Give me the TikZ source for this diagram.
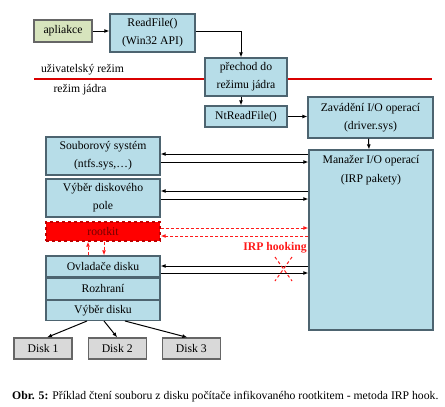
\documentclass[tikz,border=0pt]{standalone}
\usepackage{fontspec}
\setmainfont{Liberation Serif}
\usetikzlibrary{
	positioning,
	arrows.meta,
	calc}
\definecolor{boxfill}{HTML}{B7DDE8}
\definecolor{boxline}{HTML}{4D6470}
\definecolor{appfill}{HTML}{D7E4BD}
\definecolor{diskfill}{HTML}{D9D9D9}
\definecolor{hookred}{HTML}{FF1A1A}
\tikzset{
	layer box/.style={
		rectangle,
		draw=boxline,
		fill=boxfill,
		line width=1.2pt,
		inner sep=0pt,
		align=center,
		font=\fontsize{11.7}{18}\selectfont
	},
	app box/.style={
		layer box,
		draw=gray!80!black,
		fill=appfill
	},
	disk box/.style={
		layer box,
		draw=gray!80!black,
		fill=diskfill
	},
	rootkit box/.style={
		layer box,
		draw=red!75!black,
		fill=red,
		text=red!45!black,
		dashed
	},
	plain text/.style={
		inner sep=0pt,
		font=\fontsize{11.7}{14}\selectfont
	},
	flow/.style={
		draw=black,
		line width=1pt,
		-{Latex[length=5pt,width=4pt]}
	},
	hook/.style={
		draw=hookred,
		line width=1pt,
		dash pattern=on 3pt off 2pt,
		-{Latex[length=5pt,width=4pt]}
	},
	mode line/.style={
		draw=red!85!black,
		line width=1.4pt
	},
}
\begin{document}
\begin{tikzpicture}[x=1pt, y=-1pt]
	\useasboundingbox (0,0) rectangle (445,407);
	\draw[mode line] (34,79) -- (432,79);
	\node[plain text] (user)   at (82.5,70) {uživatelský režim};
	\node[plain text] (kernel) at (80,90)   {režim jádra};
%
	\node[app box, minimum width=58pt, minimum height=22pt]    (app)     at (63,31)      {apliakce};
	\node[layer box, minimum width=85pt, minimum height=38pt]  (read)    at (152.5,33)   {ReadFile()\\(Win32 API)};
	\node[layer box, minimum width=82pt, minimum height=38pt]  (switch)  at (246,77)     {přechod do\\režimu jádra};
	\node[layer box, minimum width=82pt, minimum height=21pt]  (ntread)  at (246,116.5)  {NtReadFile()};
	\node[layer box, minimum width=125pt, minimum height=41pt] (loader)  at (370.5,117.5) {Zavádění I/O operací\\(driver.sys)};
	\node[layer box, minimum width=124pt, minimum height=180pt] (manager) at (371,240)   {};
	\node[plain text, align=center, font=\fontsize{11.7}{19}\selectfont, anchor=north]
		(managertext) at ([yshift=-6pt]manager.north) {Manažer I/O operací\\(IRP pakety)};
%
	\node[layer box, minimum width=114pt, minimum height=38pt] (fs)      at (103,156)    {Souborový systém\\(ntfs.sys,\dots)};
	\node[layer box, minimum width=114pt, minimum height=38pt] (volume)  at (103,198)    {Výběr diskového\\pole};
	\node[rootkit box, minimum width=114pt, minimum height=19pt] (rootkit) at (103,231.5) {rootkit};
	\node[layer box, minimum width=114pt, minimum height=21pt] (driver)  at (103,266.5)  {Ovladače disku};
	\node[layer box, minimum width=114pt, minimum height=21pt, below=0pt of driver] (port) {Rozhraní};
	\node[layer box, minimum width=114pt, minimum height=20pt, below=0pt of port]   (select) {Výběr disku};
%
	\node[disk box, minimum width=58pt, minimum height=21pt]   (disk1)   at (43,348.5)   {Disk 1};
	\node[disk box, minimum width=58pt, minimum height=21pt, right=15pt of disk1] (disk2) {Disk 2};
	\node[disk box, minimum width=58pt, minimum height=21pt, right=15pt of disk2] (disk3) {Disk 3};
%
	\draw[flow] (app) -- (read.west |- app);
	\draw[flow] (read.east |- app) -| ([xshift=-5pt]switch.north);
	\draw[flow] ([xshift=-5pt]switch.south) -- ([xshift=-5pt]ntread.north);
	\draw[flow] (ntread) -- (loader.west |- ntread);
	\draw[flow] ([xshift=-2pt]loader.south) -- ([xshift=-2pt]manager.north);
%
	\draw[flow] (manager.west |- 0,154) -- (fs.east |- 0,154);
	\draw[flow] (fs.east |- 0,162) -- (manager.west |- 0,162);
	\draw[flow] (manager.west |- 0,191) -- (volume.east |- 0,191);
	\draw[flow] (volume.east |- 0,199) -- (manager.west |- 0,199);
	\draw[flow] (manager.west |- 0,266) -- (driver.east |- 0,266);
	\draw[flow] (driver.east |- 0,273) -- (manager.west |- 0,273);
%
	\draw[hook] (rootkit.east |- 0,228) -- (manager.west |- 0,228);
	\draw[hook] (manager.west |- 0,236) -- (rootkit.east |- 0,236);
	\draw[hook] (driver.north -| 88,0) -- (rootkit.south -| 88,0);
	\draw[hook] (rootkit.south -| 104,0) -- (driver.north -| 104,0);
	\node[plain text, text=hookred, font=\bfseries\fontsize{11.7}{14}\selectfont] (hooking) at (275,248) {IRP hooking};
	\draw[hookred, line width=1pt, dash pattern=on 3pt off 2.5pt] (275,257) -- (292,281) (292,257) -- (275,281);
%
	\draw[flow] ([xshift=-16pt]select.south) -- ([xshift=4pt]disk1.north);
	\draw[flow] ([xshift=1pt]select.south) -- (disk2.north);
	\draw[flow] ([xshift=22pt]select.south) -- ([xshift=-4pt]disk3.north);
%
	\node[anchor=base west, inner sep=0pt, font=\fontsize{11.7}{13}\selectfont] (caption) at (12,399)
		{\textbf{Obr. 5:} Příklad čtení souboru z disku počítače infikovaného rootkitem - metoda IRP hook.};
\end{tikzpicture}
\end{document}
